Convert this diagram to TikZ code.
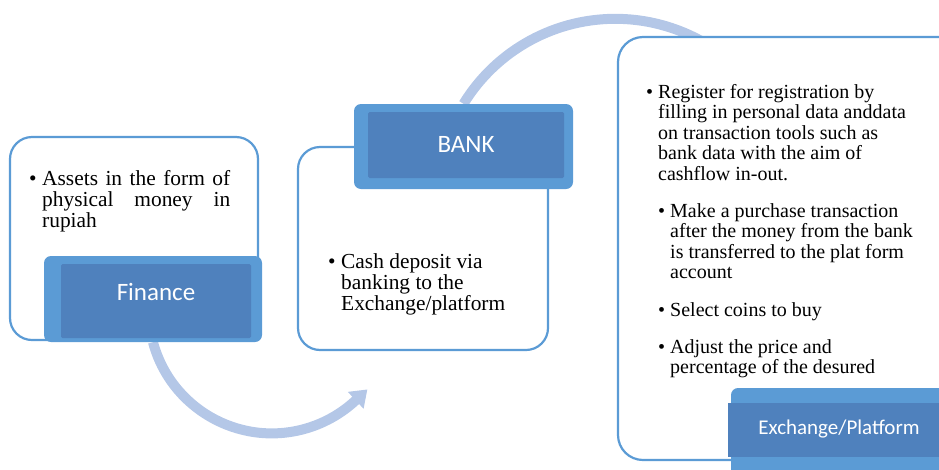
\documentclass[tikz,border=0pt]{standalone}
\usepackage{fontspec}
\setmainfont{Liberation Serif}
\newfontfamily\calibri{Carlito}
\usetikzlibrary{arrows.meta}
\definecolor{outl}{RGB}{91,155,213}
\definecolor{darkfill}{RGB}{79,129,189}
\definecolor{arcc}{RGB}{180,199,231}
\pgfdeclarelayer{bg}
\pgfsetlayers{bg,main}
\begin{document}
\begin{tikzpicture}[x=1pt,y=-1pt,
  outlinebox/.style={draw=outl, line width=2.2pt, fill=white, rounded corners=22pt, inner sep=0pt},
  lightbox/.style={fill=outl, rounded corners=7pt, inner sep=0pt},
  darkbox/.style={fill=darkfill, rounded corners=1.5pt, inner sep=0pt},
  flowarc/.style={draw=arcc, line width=10pt},
  bodytext/.style={anchor=base west, inner sep=0pt, font=\fontsize{21.4}{21.4}\selectfont},
  righttext/.style={anchor=base west, inner sep=0pt, font=\fontsize{20}{20.5}\selectfont},
  lbl/.style={anchor=base, text=white, inner sep=0pt}]
\useasboundingbox (0,0) rectangle (939,469);
\clip (0,0) rectangle (939,469);
% left group
\node[outlinebox, minimum width=248pt, minimum height=203pt] (finbody) at (134,238.5) {};
\node[lightbox, minimum width=218pt, minimum height=86pt] (finance) at (153,299) {};
\node[darkbox, minimum width=190pt, minimum height=74pt] (financein) at (156,301) {};
\node[lbl, font=\calibri\fontsize{25}{30}\selectfont] (finlbl) at (156,300) {Finance};
\node[bodytext] (finbul) at (29,185) {•};
\node[bodytext] (fintxt) at (42,185) {\parbox[t]{188pt}{\makebox[188pt][s]{Assets in the form of}\\\makebox[188pt][s]{physical money in}\\rupiah}};
% middle group
\node[outlinebox, minimum width=250pt, minimum height=203pt] (bankbody) at (423,248.5) {};
\node[lightbox, minimum width=219pt, minimum height=85pt] (bank) at (463.5,146.5) {};
\node[darkbox, minimum width=196pt, minimum height=66pt] (bankin) at (466,145) {};
\node[lbl, font=\calibri\fontsize{25}{30}\selectfont] (banklbl) at (466,152) {BANK};
\node[bodytext] (bankbul) at (328,268) {•};
\node[bodytext] (banktxt) at (341,268) {\parbox[t]{200pt}{Cash deposit via\\banking to the\\Exchange/platform}};
% right group
\node[outlinebox, rounded corners=25pt, minimum width=362pt, minimum height=423pt] (exbody) at (799,248.5) {};
\node[lightbox, minimum width=249pt, minimum height=102pt] (exchange) at (855.5,439) {};
\node[darkbox, rounded corners=0pt, minimum width=252pt, minimum height=54pt] (exchangein) at (854,430) {};
\node[lbl, font=\calibri\fontsize{21}{25}\selectfont] (exlbl) at (839,434) {Exchange/Platform};
\node[righttext] (exbul1) at (646,98) {•};
\node[righttext] (extxt1) at (658,98) {\parbox[t]{270pt}{Register for registration by\\filling in personal data anddata\\on transaction tools such as\\bank data with the aim of\\cashflow in-out.}};
\node[righttext] (exbul2) at (658,217) {•};
\node[righttext] (extxt2) at (670,217) {\parbox[t]{270pt}{Make a purchase transaction\\after the money from the bank\\is transferred to the plat form\\account}};
\node[righttext] (exbul3) at (658,316) {•};
\node[righttext] (extxt3) at (670,316) {Select coins to buy};
\node[righttext] (exbul4) at (658,353) {•};
\node[righttext] (extxt4) at (670,353) {\parbox[t]{270pt}{Adjust the price and\\percentage of the desured}};
% connectors
\begin{pgfonlayer}{bg}
\draw[flowarc, -{Triangle[length=16pt, width=22pt]}] (finance.south) arc[start angle=165, end angle=47, radius=123] -- ++(11.7,-10.9) coordinate (arrowend);
\draw[flowarc] (bank.north) arc[start angle=211.5, end angle=320, radius=178] coordinate (arcend);
\end{pgfonlayer}
\end{tikzpicture}
\end{document}
